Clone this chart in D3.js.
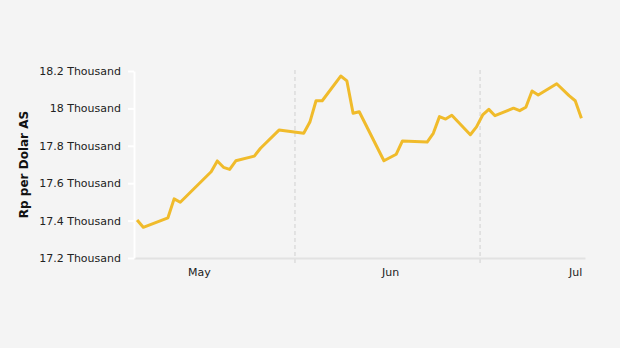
<!DOCTYPE html>
<html>
<head>
<meta charset="utf-8">
<script src="https://cdn.jsdelivr.net/npm/d3@7"></script>
<style>
  body { margin: 0; background: #f4f4f4; }
  svg { display: block; font-family: Verdana, "DejaVu Sans", sans-serif; }
</style>
</head>
<body>
<svg id="chart"></svg>
<script>
// daily rate, Rp per USD
const dates = [
  "2021-04-21", "2021-04-22", "2021-04-26", "2021-04-27", "2021-04-28",
  "2021-05-03", "2021-05-04", "2021-05-05", "2021-05-06", "2021-05-07",
  "2021-05-10", "2021-05-11", "2021-05-14", "2021-05-18", "2021-05-19",
  "2021-05-20", "2021-05-21", "2021-05-24", "2021-05-25", "2021-05-26",
  "2021-05-27", "2021-05-31", "2021-06-02", "2021-06-03", "2021-06-07",
  "2021-06-08", "2021-06-09", "2021-06-10", "2021-06-11", "2021-06-14",
  "2021-06-15", "2021-06-16", "2021-06-17", "2021-06-18", "2021-06-21",
  "2021-06-22", "2021-06-23", "2021-06-24", "2021-06-25", "2021-06-28",
  "2021-06-30", "2021-07-01", "2021-07-02"
];
const rates = [
  17403, 17364, 17415, 17516, 17498,
  17661, 17719, 17685, 17674, 17720,
  17745, 17787, 17884, 17867, 17927,
  18041, 18041, 18173, 18147, 17974,
  17982, 17720, 17755, 17826, 17820,
  17867, 17956, 17943, 17963, 17859,
  17901, 17965, 17995, 17961, 18001,
  17988, 18006, 18093, 18072, 18132,
  18068, 18041, 17947
];
const yTicks = [17200, 17400, 17600, 17800, 18000, 18200];
const monthTicks = ["2021-05-01", "2021-06-01", "2021-07-01"];
const gridDates = ["2021-05-16T14:00", "2021-06-15T14:00"];
const xDomain = ["2021-04-20T12:00", "2021-07-02T14:00"];
const yLabel = "Rp per Dolar AS";

const W = 620, H = 348;
const margin = {left: 134, right: 35, top: 71, bottom: 90};

const svg = d3.select("#chart").attr("width", W).attr("height", H);

const x = d3.scaleTime()
    .domain(xDomain.map(d => new Date(d)))
    .range([margin.left, W - margin.right]);

const y = d3.scaleLinear()
    .domain([17200, 18200])
    .range([H - margin.bottom, margin.top]);

const data = dates.map((d, i) => ({date: new Date(d), value: rates[i]}));

// dashed vertical gridlines
svg.append("g")
    .selectAll("line")
    .data(gridDates.map(d => new Date(d)))
    .join("line")
    .attr("x1", d => x(d)).attr("x2", d => x(d))
    .attr("y1", margin.top - 1).attr("y2", H - margin.bottom + 5)
    .attr("stroke", "#dcdcdc")
    .attr("stroke-width", 1.5)
    .attr("stroke-dasharray", "4,3");

// x baseline + month labels
const xAxis = svg.append("g")
    .attr("transform", `translate(0,${H - margin.bottom})`)
    .call(d3.axisBottom(x)
        .tickValues(monthTicks.map(d => new Date(d)))
        .tickFormat(d3.timeFormat("%b"))
        .tickSize(0)
        .tickPadding(10));
xAxis.select(".domain").attr("stroke", "#e2e2e2").attr("stroke-width", 2);
xAxis.selectAll("text").attr("font-size", 11).attr("fill", "#222")
    .attr("font-family", 'Verdana, "DejaVu Sans", sans-serif');

// y axis
const yAxis = svg.append("g")
    .attr("transform", `translate(${margin.left},0)`)
    .call(d3.axisLeft(y)
        .tickValues(yTicks)
        .tickFormat(d => (d / 1000) + " Thousand")
        .tickSize(6)
        .tickPadding(7)
        .tickSizeOuter(0));
yAxis.select(".domain").attr("stroke", "#ffffff").attr("stroke-width", 2);
yAxis.selectAll(".tick line").attr("stroke", "#ffffff").attr("stroke-width", 2);
yAxis.selectAll("text").attr("font-size", 11).attr("fill", "#222")
    .attr("font-family", 'Verdana, "DejaVu Sans", sans-serif');

svg.append("text")
    .attr("transform", `translate(28,${(margin.top + H - margin.bottom) / 2}) rotate(-90)`)
    .attr("text-anchor", "middle")
    .attr("font-size", 12)
    .attr("font-weight", "bold")
    .attr("fill", "#111")
    .text(yLabel);

// the rate line
const line = d3.line()
    .x(d => x(d.date))
    .y(d => y(d.value));

svg.append("path")
    .datum(data)
    .attr("fill", "none")
    .attr("stroke", "#f0bb2b")
    .attr("stroke-width", 3)
    .attr("stroke-linejoin", "round")
    .attr("d", line);
</script>
</body>
</html>
